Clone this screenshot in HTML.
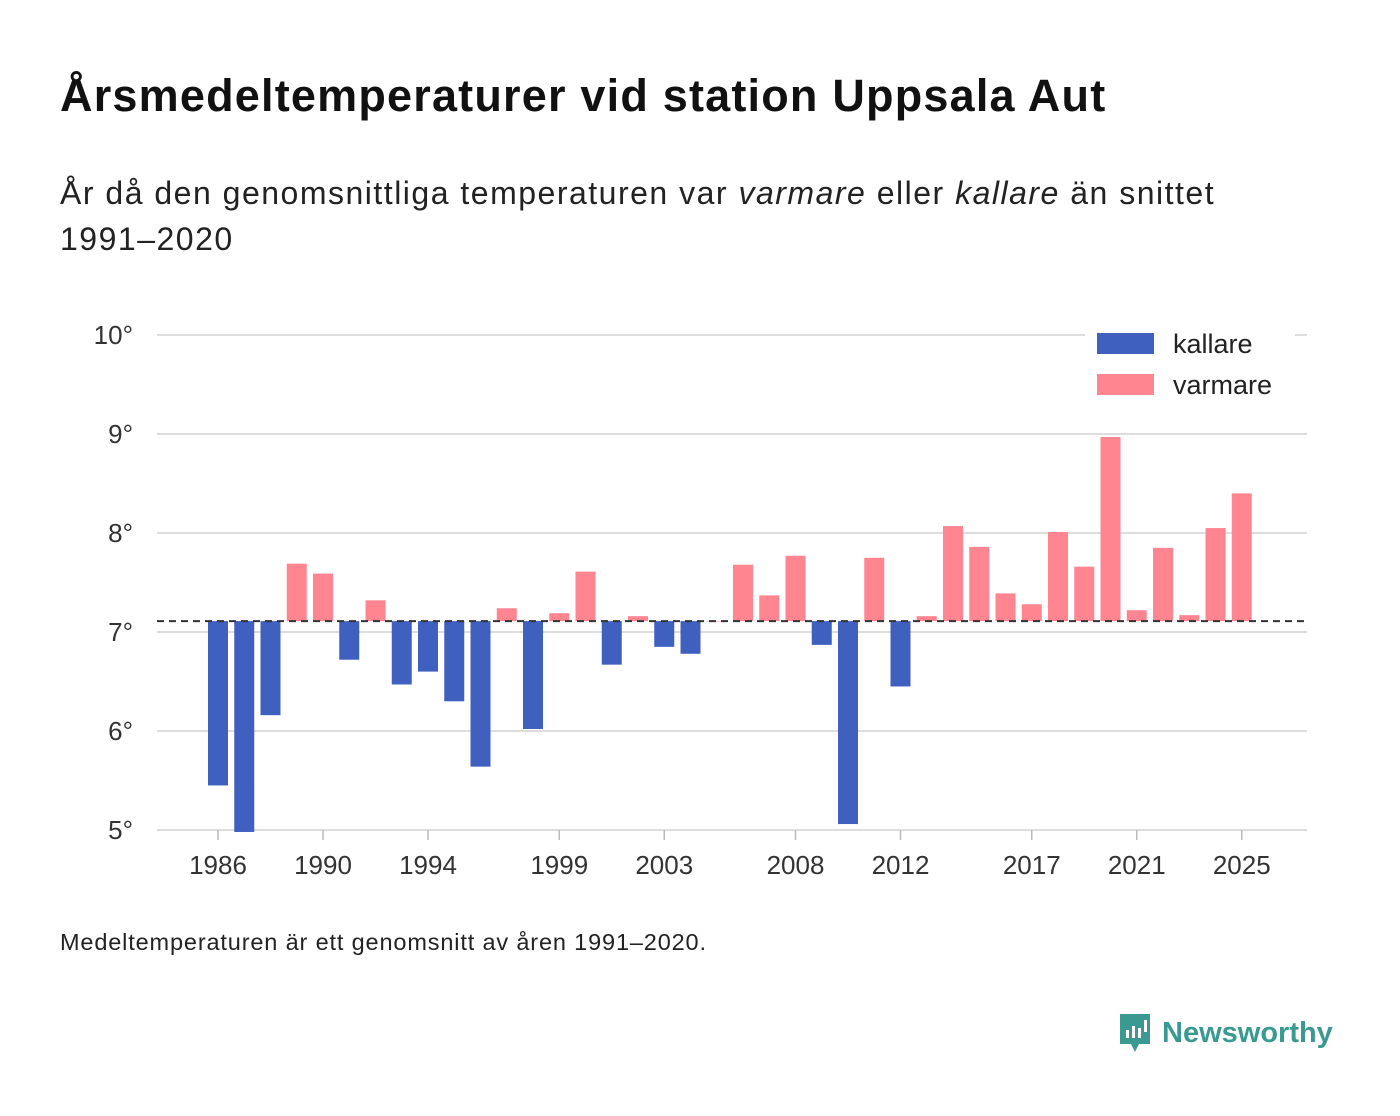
<!DOCTYPE html>
<html><head><meta charset="utf-8"><style>
body{margin:0;width:1400px;height:1116px;background:#fff;font-family:"Liberation Sans","DejaVu Sans",sans-serif;color:#111;position:relative;overflow:hidden}
h1{position:absolute;left:60px;top:70px;margin:0;font-size:45px;font-weight:bold;letter-spacing:1.2px}
.sub{position:absolute;left:60px;top:170px;font-size:32px;line-height:46px;width:1300px;color:#222;letter-spacing:1.5px}
.note{position:absolute;left:60px;top:929px;font-size:23.5px;color:#222;letter-spacing:0.85px}
.logo{position:absolute;left:1118px;top:1012px;display:flex;align-items:center;gap:10px;font-size:29px;font-weight:bold;color:#3a9a92}
</style></head><body>
<h1>Årsmedeltemperaturer vid station Uppsala Aut</h1>
<div class="sub">År då den genomsnittliga temperaturen var <i>varmare</i> eller <i>kallare</i> än snittet<br>1991–2020</div>
<svg id="chart" width="1400" height="1116" style="position:absolute;left:0;top:0"></svg>
<div class="note">Medeltemperaturen är ett genomsnitt av åren 1991–2020.</div>
<div class="logo"><svg width="34" height="42" viewBox="0 0 34 42"><path d="M2 2h30v30H21l-4 8-4-8H2z" fill="#3a9a92"/><rect x="8" y="18" width="3" height="8" fill="#fff"/><rect x="14" y="14" width="3" height="12" fill="#fff"/><rect x="20" y="16" width="3" height="10" fill="#fff"/><rect x="26" y="8" width="3" height="12" fill="#fff"/></svg><span>Newsworthy</span></div>
<script>
const years=[];for(let y=1986;y<=2025;y++)years.push(y);
const temps=[5.45,4.98,6.16,7.69,7.59,6.72,7.32,6.47,6.60,6.30,5.64,7.24,6.02,7.19,7.61,6.67,7.16,6.85,6.78,7.11,7.68,7.37,7.77,6.87,5.06,7.75,6.45,7.16,8.07,7.86,7.39,7.28,8.01,7.66,8.97,7.22,7.85,7.17,8.05,8.40];
const baseline=7.11;
const yTicks=[5,6,7,8,9,10];
const xTicks=[1986,1990,1994,1999,2003,2008,2012,2017,2021,2025];
const NS="http://www.w3.org/2000/svg",svg=document.getElementById('chart');
const X0=157,X1=1307;
const x=y=>218+(y-1986)*26.25;
const yS=v=>830-(v-5)*99;
function mk(t,a){const e=document.createElementNS(NS,t);for(const k in a)e.setAttribute(k,a[k]);svg.appendChild(e);return e;}
yTicks.forEach(v=>{
 const l=mk('line',{x1:X0,x2:X1,y1:yS(v),y2:yS(v),stroke:'#ddd','stroke-width':2});
 
 
 const t=mk('text',{x:133,y:yS(v)+9,'text-anchor':'end','font-size':26,fill:'#333'});t.textContent=v+'°';
 
 
});
xTicks.forEach(v=>{
 const l=mk('line',{x1:x(v),x2:x(v),y1:830,y2:840,stroke:'#bbb','stroke-width':1.5});
 
 
 const t=mk('text',{x:x(v),y:874,'text-anchor':'middle','font-size':26,fill:'#333'});t.textContent=v;
 
 
});
years.forEach((yr,i)=>{
 const v=temps[i],a=yS(Math.max(v,baseline)),b=yS(Math.min(v,baseline));
 const r=mk('rect',{x:x(yr)-10,y:a,width:20,height:Math.max(b-a,0.5),fill:v>=baseline?'#ff8591':'#4060c0'});
 
 
});
const bl=mk('line',{x1:X0,x2:X1,y1:yS(baseline),y2:yS(baseline),stroke:'#333','stroke-width':2,'stroke-dasharray':'7,5'});


mk('rect',{x:1085,y:320,width:210,height:90,fill:'#fff'});
[['kallare','#4060c0',333],['varmare','#ff8591',374]].forEach(([n,c,yy])=>{
 const r=mk('rect',{x:1097,y:yy,width:57,height:21,fill:c});
 
 
 const t=mk('text',{x:1173,y:yy+20,'font-size':27,fill:'#222'});t.textContent=n;
 
 
});
</script>
</body></html>
